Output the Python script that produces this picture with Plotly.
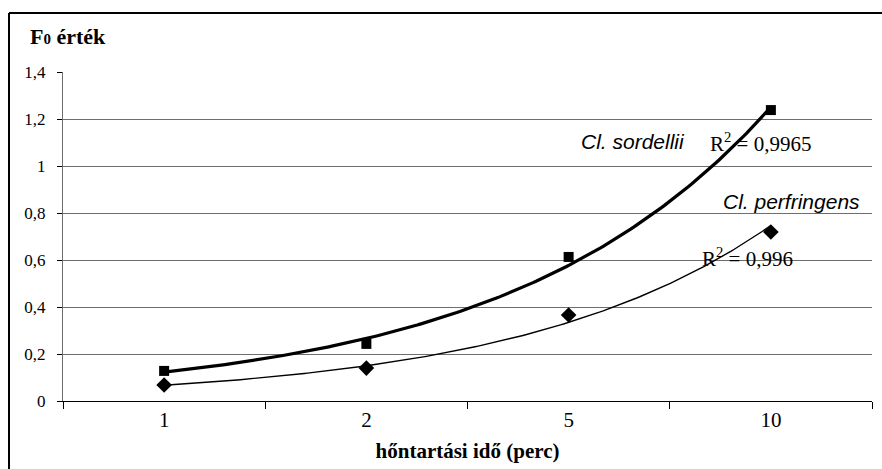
import numpy as np
import plotly.graph_objects as go

categories = ["1", "2", "5", "10"]
sordellii = [0.128, 0.243, 0.613, 1.238]
perfringens = [0.068, 0.140, 0.366, 0.719]
y_ticks = [0, 0.2, 0.4, 0.6, 0.8, 1.0, 1.2, 1.4]
y_ticktext = ["0", "0,2", "0,4", "0,6", "0,8", "1", "1,2", "1,4"]

xpos = np.arange(1, len(categories) + 1)


def expfit(vals):
    b, a = np.polyfit(xpos, np.log(vals), 1)
    xs = np.linspace(1, len(categories), 200)
    return xs, np.exp(a + b * xs)


serif = "Liberation Serif"
sans = "Liberation Sans"

fig = go.Figure()
xs, ys = expfit(sordellii)
fig.add_trace(go.Scatter(x=xs, y=ys, mode="lines", line=dict(color="black", width=3.2),
                         showlegend=False, hoverinfo="skip"))
xs, ys = expfit(perfringens)
fig.add_trace(go.Scatter(x=xs, y=ys, mode="lines", line=dict(color="black", width=1.4),
                         showlegend=False, hoverinfo="skip"))
fig.add_trace(go.Scatter(x=xpos, y=sordellii, mode="markers", name="Cl. sordellii",
                         marker=dict(symbol="square", size=10, color="black"), showlegend=False))
fig.add_trace(go.Scatter(x=xpos, y=perfringens, mode="markers", name="Cl. perfringens",
                         marker=dict(symbol="diamond", size=12, color="black"), showlegend=False))

fig.update_layout(
    width=882, height=469,
    margin=dict(l=63, r=10, t=72, b=68),
    paper_bgcolor="white", plot_bgcolor="white",
    showlegend=False,
    font=dict(family=serif, size=17, color="black"),
    xaxis=dict(
        range=[0.5, 4.5], tickvals=list(xpos), ticktext=categories, ticks="",
        showgrid=False, zeroline=False, showline=True, linecolor="black", linewidth=1,
        tickfont=dict(family=serif, size=21), ticklabelstandoff=0,
        minor=dict(tickvals=[0.5, 1.5, 2.5, 3.5, 4.5], ticks="outside", ticklen=7,
                   tickcolor="black", showgrid=False),
        title=dict(text="<b>hőntartási idő (perc)</b>", font=dict(family=serif, size=21), standoff=12),
        fixedrange=True,
    ),
    yaxis=dict(
        range=[0, 1.4], tickvals=y_ticks, ticktext=y_ticktext, ticks="outside", ticklen=5,
        tickcolor="black", showgrid=True, gridcolor="#6e6e6e", gridwidth=1,
        zeroline=False, showline=True, linecolor="#6e6e6e", linewidth=1,
        tickfont=dict(family=serif, size=17), ticklabelstandoff=8, fixedrange=True,
    ),
)

fig.add_annotation(xref="paper", yref="paper", x=-0.0433, y=1.109, xanchor="left", yanchor="middle",
                   text="<b>F<span style='font-size:15px'>0</span> érték</b>", showarrow=False,
                   font=dict(family=serif, size=22))

fig.add_annotation(x=3.318, y=1.106, text="<i>Cl. sordellii</i>", showarrow=False,
                   font=dict(family=sans, size=21))
fig.add_annotation(x=3.951, y=1.102, text="R<sup>2</sup> = 0,9965", showarrow=False,
                   font=dict(family=serif, size=21))
fig.add_annotation(x=4.104, y=0.847, text="<i>Cl. perfringens</i>", showarrow=False,
                   font=dict(family=sans, size=21))
fig.add_annotation(x=3.882, y=0.609, text="R<sup>2</sup> = 0,996", showarrow=False,
                   font=dict(family=serif, size=21))

# outer frame (left and top edges visible)
bx = (9 - 63) / 809
ty = (401 - 13) / 329
fig.add_shape(type="line", xref="paper", yref="paper", x0=bx, x1=bx, y0=-0.3, y1=ty,
              line=dict(color="black", width=2))
fig.add_shape(type="line", xref="paper", yref="paper", x0=bx, x1=1.1, y0=ty, y1=ty,
              line=dict(color="black", width=2))

fig.write_html("out.html", config={"displayModeBar": False},
               post_script="document.body.style.margin='0';")
